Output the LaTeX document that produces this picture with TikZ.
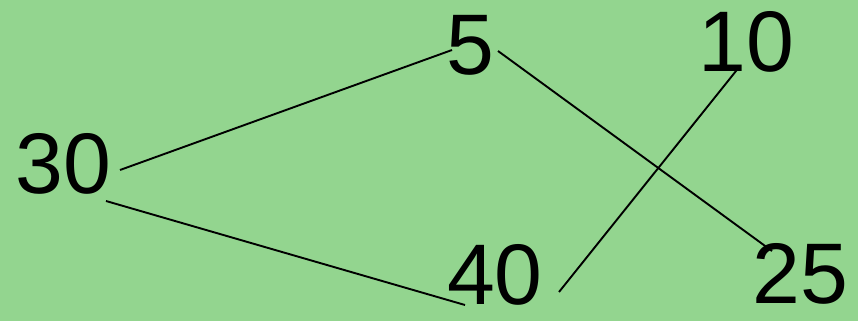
\documentclass[tikz,border=0pt]{standalone}
\usepackage{fontspec}
\setmainfont{Liberation Sans}
\usetikzlibrary{calc}
\definecolor{bggreen}{RGB}{147,213,143}

\begin{document}
\begin{tikzpicture}[
	x=1pt, y=1pt,
	num/.style={
		inner sep=0pt,
		font=\fontsize{86}{86}\selectfont
	},
	link/.style={
		line width=1.9pt
	}
	]
	
	\fill[bggreen] (0,0) rectangle (858,321);
	\useasboundingbox (0,0) rectangle (858,321);
	
	\node[num] (n30) at (63.5,157) {30};
	\node[num] (n5) at (470,276) {5};
	\node[num] (n10) at (746,279) {10};
	\node[num] (n40) at (495,46) {40};
	\node[num] (n25) at (800,47) {25};
	
	\draw[link] ($(n30)+(56.5,-6)$) -- ($(n5)+(-18,-5)$);
	\draw[link] ($(n30)+(42.5,-37)$) -- ($(n40)+(-30,-30)$);
	\draw[link] ($(n5)+(28,-6)$) -- ($(n25)+(-28,23)$);
	\draw[link] ($(n10)+(-6,-24)$) -- ($(n40)+(64,-17)$);
	
\end{tikzpicture}
\end{document}
